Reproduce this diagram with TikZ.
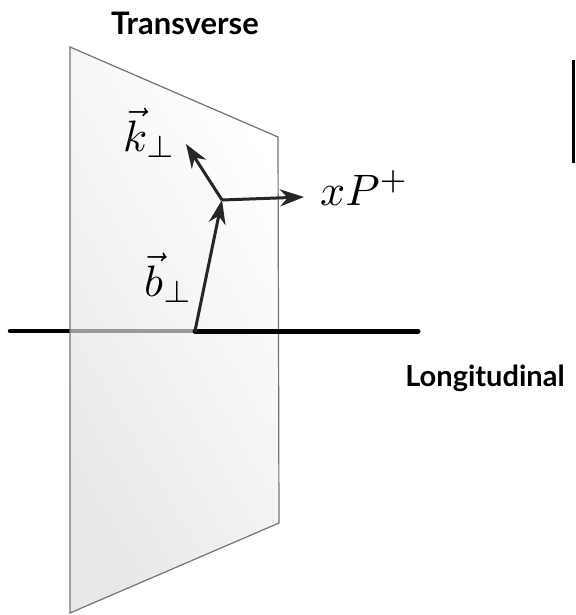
\documentclass[tikz,border=0pt]{standalone}
\usepackage{graphicx}
\usepackage{fontspec}
\newfontfamily\labelfont{Lato}
\usetikzlibrary{arrows.meta}
\newcommand{\bigmath}[1]{\scalebox{4.4}{\normalsize$#1$}}
\tikzset{
  vec/.style={line width=3pt, draw=black!85, -{Stealth[length=24pt,width=17pt]}},
  axis/.style={line width=5pt, line cap=round, draw=black},
  plane/.style={draw=black!55, line width=1.2pt},
  lab/.style={font=\labelfont\bfseries, inner sep=0pt},
  mlab/.style={inner sep=0pt, anchor=base west}
}
\begin{document}
\begin{tikzpicture}[x=1pt,y=-1pt]
\useasboundingbox (0,0) rectangle (575,615);
% axis left of plane
\coordinate (L) at (10,331);
\coordinate (P1) at (70,331);
\coordinate (O) at (195,331);
\coordinate (R) at (418,331);
\draw[axis, line width=4.5pt] (L) -- (P1);
% plane
\shade[left color=black!9, right color=white, shading angle=120]
  (70,47) -- (278,137) -- (279,523) -- (70,613) -- cycle;
% axis behind (seen through) plane
\draw[line width=4.5pt, draw=black!40] (P1) -- (O);
\draw[plane] (70,47) -- (278,137) -- (279,523) -- (70,613) -- cycle;
\draw[axis] (O) -- (R);
% vectors
\coordinate (J) at (222,200);
\coordinate (K) at (186,144);
\coordinate (X) at (304,197);
\draw[vec] (O) -- (J);
\draw[vec] (J) -- (K);
\draw[vec] (J) -- (X);
% labels
\node[mlab] (kl) at (123,151) {\bigmath{\vec{k}_\perp}};
\node[mlab] (bl) at (144,296) {\bigmath{\vec{b}_\perp}};
\node[mlab] (xl) at (320,205) {\bigmath{xP^+}};
\node[lab, font=\labelfont\bfseries\fontsize{31}{34}\selectfont] (tr) at (185,23) {Transverse};
\node[lab, font=\labelfont\bfseries\fontsize{29}{32}\selectfont] (lo) at (485,378) {Longitudinal};
% bar at right
\fill[black] (572,60) rectangle (575,163);
\end{tikzpicture}
\end{document}
